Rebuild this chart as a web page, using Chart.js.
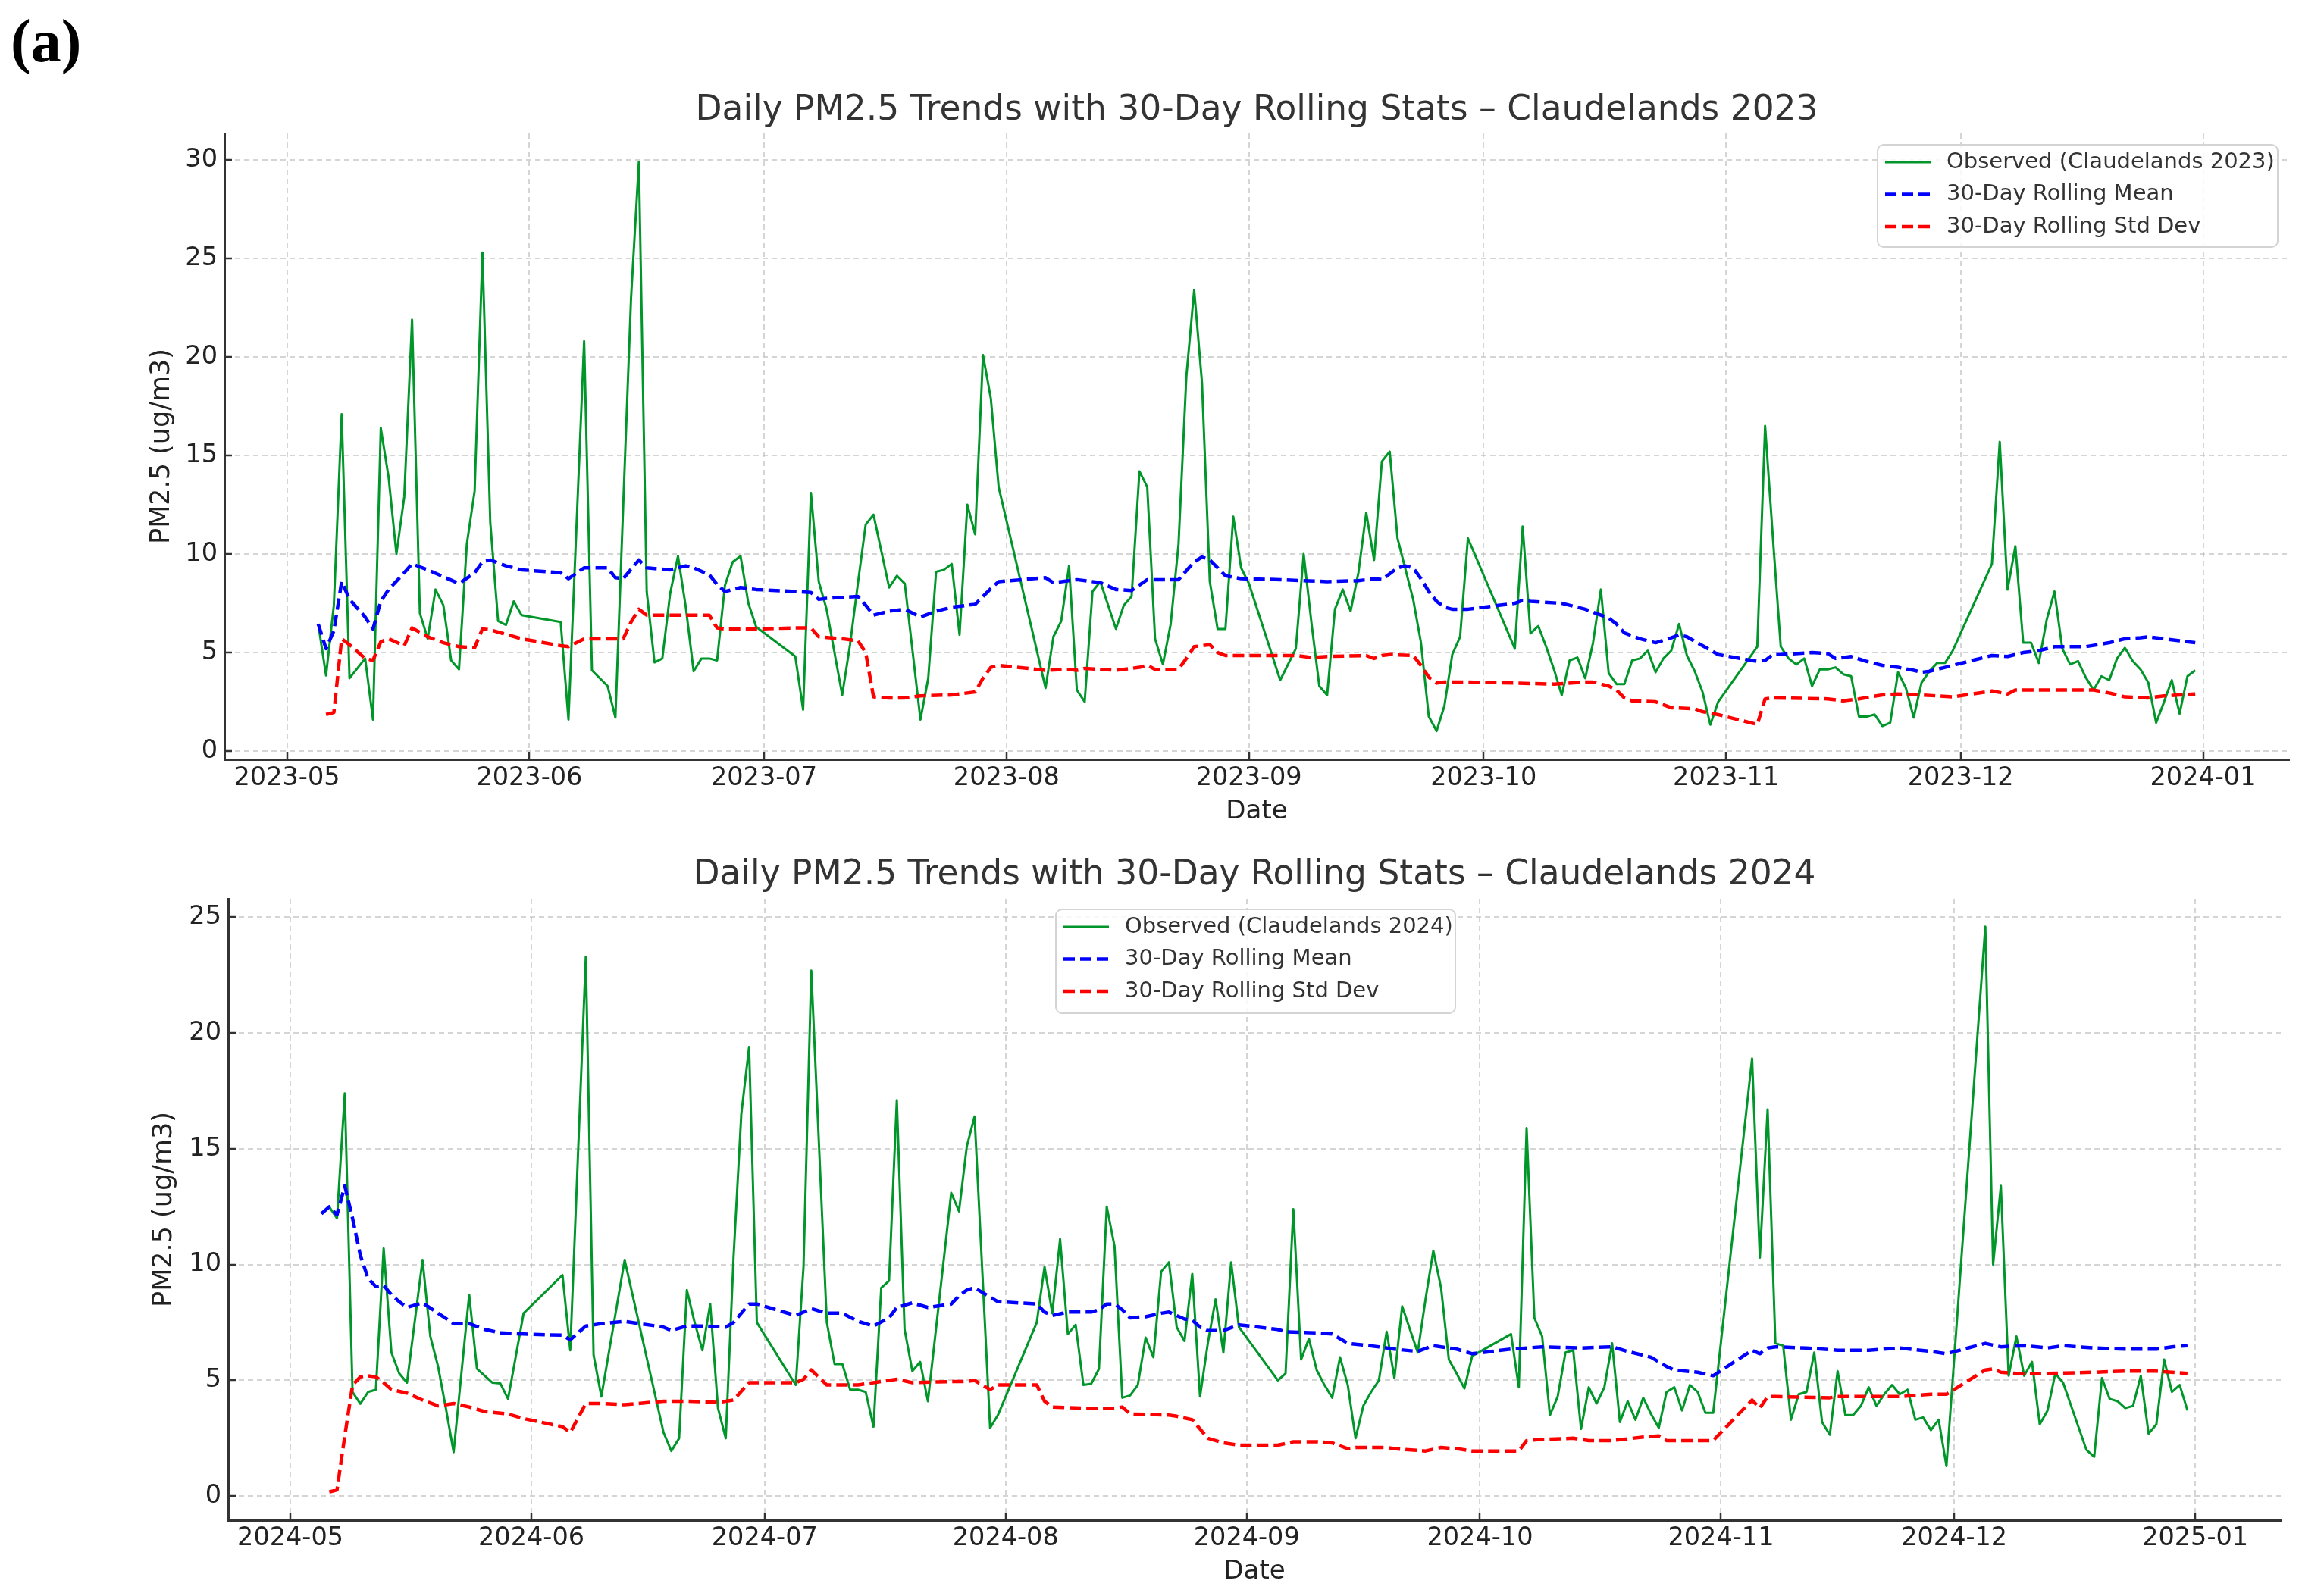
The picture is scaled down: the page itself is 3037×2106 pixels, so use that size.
<!DOCTYPE html>
<html>
<head>
<meta charset="utf-8">
<script src="https://cdn.jsdelivr.net/npm/chart.js@4.4.1/dist/chart.umd.min.js"></script>
<style>
  body { margin: 0; background: #fff; width: 3037px; height: 2106px; position: relative; overflow: hidden; }
  #panel { position: absolute; left: 14px; top: 14px; font: bold 80px "Liberation Serif", serif; line-height: 80px; color: #000; }
  canvas { position: absolute; left: 0; }
</style>
</head>
<body>
<div id="panel">(a)</div>
<canvas id="c2023" width="3037" height="1100" style="top:0px"></canvas>
<canvas id="c2024" width="3037" height="1006" style="top:1100px"></canvas>
<script>
// ---- data ----
const ticks2023 = ["2023-05", "2023-06", "2023-07", "2023-08", "2023-09", "2023-10", "2023-11", "2023-12", "2024-01"];
const ticks2024 = ["2024-05", "2024-06", "2024-07", "2024-08", "2024-09", "2024-10", "2024-11", "2024-12", "2025-01"];
const yTicks2023 = [0, 5, 10, 15, 20, 25, 30];
const yTicks2024 = [0, 5, 10, 15, 20, 25];

// 2023 observed
const obs2023Dates = [
  "05-05", "05-06", "05-07", "05-08", "05-09", "05-11", "05-12", "05-13", "05-14", "05-15", "05-16", "05-17", "05-18",
  "05-19", "05-20", "05-21", "05-22", "05-23", "05-24", "05-25", "05-26", "05-27", "05-28", "05-29", "05-30", "05-31",
  "06-05", "06-06", "06-08", "06-09", "06-11", "06-12", "06-13", "06-14", "06-15", "06-16", "06-17", "06-18", "06-19",
  "06-20", "06-21", "06-22", "06-23", "06-24", "06-25", "06-26", "06-27", "06-28", "06-29", "06-30",
  "07-05", "07-06", "07-07", "07-08", "07-09", "07-11", "07-12", "07-13", "07-14", "07-15", "07-17", "07-18", "07-19",
  "07-21", "07-22", "07-23", "07-24", "07-25", "07-26", "07-27", "07-28", "07-29", "07-30", "07-31",
  "08-06", "08-07", "08-08", "08-09", "08-10", "08-11", "08-12", "08-13", "08-15", "08-16", "08-17", "08-18", "08-19",
  "08-20", "08-21", "08-22", "08-23", "08-24", "08-25", "08-26", "08-27", "08-28", "08-29", "08-30", "08-31",
  "09-01", "09-05", "09-07", "09-08", "09-09", "09-10", "09-11", "09-12", "09-13", "09-14", "09-15", "09-16", "09-17",
  "09-18", "09-19", "09-20", "09-21", "09-22", "09-23", "09-24", "09-25", "09-26", "09-27", "09-28", "09-29",
  "10-05", "10-06", "10-07", "10-08", "10-09", "10-10", "10-11", "10-12", "10-13", "10-14", "10-15", "10-16", "10-17",
  "10-18", "10-19", "10-20", "10-21", "10-22", "10-23", "10-24", "10-25", "10-26", "10-27", "10-28", "10-29", "10-30", "10-31",
  "11-05", "11-06", "11-07", "11-08", "11-09", "11-10", "11-11", "11-12", "11-13", "11-14", "11-15", "11-16", "11-17",
  "11-18", "11-19", "11-20", "11-21", "11-22", "11-23", "11-24", "11-25", "11-26", "11-27", "11-28", "11-29", "11-30",
  "12-05", "12-06", "12-07", "12-08", "12-09", "12-10", "12-11", "12-12", "12-13", "12-14", "12-15", "12-16", "12-17",
  "12-18", "12-19", "12-20", "12-21", "12-22", "12-23", "12-24", "12-25", "12-26", "12-27", "12-28", "12-29", "12-30", "12-31"
];
const obs2023Vals = [
  6.45, 3.84, 7.4, 17.1, 3.7, 4.7, 1.6, 16.4, 13.9, 10.0, 12.9, 21.9, 7.0,
  5.7, 8.2, 7.4, 4.6, 4.15, 10.5, 13.2, 25.3, 11.6, 6.6, 6.4, 7.6, 6.9,
  6.55, 1.6, 20.8, 4.1, 3.3, 1.7, 12.5, 23.0, 29.9, 8.1, 4.5, 4.7, 8.0,
  9.9, 7.3, 4.05, 4.7, 4.7, 4.6, 8.4, 9.6, 9.9, 7.5, 6.3,
  4.8, 2.1, 13.1, 8.6, 7.2, 2.85, 5.4, 8.5, 11.5, 12.0, 8.3, 8.9, 8.5,
  1.6, 3.7, 9.1, 9.2, 9.5, 5.9, 12.5, 11.0, 20.1, 17.9, 13.4,
  3.2, 5.8, 6.6, 9.4, 3.1, 2.5, 8.1, 8.6, 6.2, 7.4, 7.85, 14.2, 13.4,
  5.7, 4.4, 6.45, 10.5, 19.0, 23.4, 18.7, 8.6, 6.2, 6.2, 11.9, 9.3,
  8.5, 3.6, 5.2, 10.0, 6.5, 3.3, 2.84, 7.2, 8.2, 7.1, 9.05, 12.1, 9.7,
  14.7, 15.2, 10.8, 9.25, 7.7, 5.5, 1.75, 1.02, 2.3, 4.9, 5.8, 10.8,
  5.2, 11.4, 5.97, 6.35, 5.3, 4.15, 2.84, 4.6, 4.75, 3.7, 5.5, 8.2, 3.96,
  3.4, 3.4, 4.6, 4.7, 5.1, 4.0, 4.7, 5.1, 6.45, 4.85, 4.05, 3.0, 1.34, 2.5,
  5.3, 16.5, 10.8, 5.3, 4.7, 4.4, 4.7, 3.3, 4.15, 4.15, 4.25, 3.9, 3.8,
  1.75, 1.75, 1.86, 1.27, 1.44, 4.0, 3.2, 1.7, 3.47, 4.05, 4.47, 4.47, 5.1,
  9.5, 15.7, 8.2, 10.4, 5.5, 5.5, 4.47, 6.66, 8.1, 5.2, 4.4, 4.57, 3.74,
  3.1, 3.8, 3.6, 4.7, 5.24, 4.57, 4.15, 3.47, 1.44, 2.48, 3.6, 1.9, 3.8, 4.1
];

// 2023 rolling mean
const mean2023Dates = [
  "05-05", "05-06", "05-07", "05-08", "05-09", "05-11", "05-12", "05-13", "05-14", "05-16", "05-17", "05-19", "05-21",
  "05-23", "05-25", "05-26", "05-27", "05-29", "05-31", "06-05", "06-06", "06-08", "06-11", "06-12", "06-13", "06-15",
  "06-16", "06-19", "06-21", "06-22", "06-24", "06-25", "06-26", "06-28", "06-30", "07-05", "07-07", "07-08", "07-09",
  "07-11", "07-13", "07-14", "07-15", "07-17", "07-19", "07-21", "07-23", "07-25", "07-28", "07-30", "07-31", "08-06",
  "08-07", "08-10", "08-13", "08-15", "08-17", "08-19", "08-23", "08-25", "08-26", "08-27", "08-29", "08-31", "09-05",
  "09-08", "09-11", "09-15", "09-17", "09-18", "09-20", "09-21", "09-22", "09-23", "09-24", "09-25", "09-26", "09-27",
  "09-29", "10-05", "10-06", "10-07", "10-11", "10-14", "10-16", "10-17", "10-18", "10-19", "10-21", "10-23", "10-25",
  "10-26", "10-27", "10-29", "10-31", "11-05", "11-06", "11-07", "11-08", "11-12", "11-14", "11-15", "11-17", "11-19",
  "11-21", "11-23", "11-25", "11-26", "11-27", "11-29", "11-30", "12-05", "12-07", "12-09", "12-11", "12-13", "12-17",
  "12-20", "12-22", "12-24", "12-25", "12-27", "12-29", "12-31"
];
const mean2023Vals = [
  6.45, 5.2, 6.1, 8.6, 7.7, 6.8, 6.2, 7.6, 8.2, 9.05, 9.5, 9.2, 8.85,
  8.5, 9.05, 9.6, 9.7, 9.4, 9.2, 9.05, 8.75, 9.3, 9.3, 8.8, 8.75, 9.7,
  9.3, 9.2, 9.4, 9.3, 8.95, 8.45, 8.1, 8.3, 8.2, 8.1, 8.05, 7.7, 7.75,
  7.8, 7.85, 7.4, 6.9, 7.1, 7.2, 6.8, 7.1, 7.3, 7.45, 8.25, 8.6, 8.8,
  8.55, 8.7, 8.55, 8.2, 8.15, 8.7, 8.7, 9.6, 9.85, 9.7, 8.9, 8.75, 8.7,
  8.65, 8.6, 8.65, 8.75, 8.7, 9.3, 9.4, 9.3, 8.75, 8.1, 7.6, 7.3, 7.2,
  7.2, 7.5, 7.65, 7.6, 7.5, 7.2, 6.9, 6.75, 6.45, 6.0, 5.7, 5.5, 5.75,
  5.9, 5.8, 5.35, 4.9, 4.55, 4.6, 4.9, 4.9, 5.0, 4.95, 4.7, 4.8, 4.55,
  4.35, 4.25, 4.1, 4.0, 4.05, 4.25, 4.35, 4.85, 4.8, 5.0, 5.1, 5.3, 5.3,
  5.5, 5.7, 5.75, 5.8, 5.7, 5.6, 5.5
];

// 2023 rolling std dev
const std2023Dates = [
  "05-06", "05-07", "05-08", "05-09", "05-11", "05-12", "05-13", "05-14", "05-16", "05-17", "05-19", "05-21", "05-23",
  "05-25", "05-26", "05-27", "05-31", "06-05", "06-06", "06-08", "06-11", "06-13", "06-14", "06-15", "06-16", "06-24",
  "06-25", "06-26", "06-30", "07-05", "07-06", "07-07", "07-08", "07-11", "07-13", "07-14", "07-15", "07-17", "07-19",
  "07-21", "07-25", "07-27", "07-28", "07-29", "07-30", "07-31", "08-06", "08-09", "08-10", "08-11", "08-15", "08-18",
  "08-19", "08-20", "08-23", "08-24", "08-25", "08-27", "08-28", "08-29", "09-07", "09-09", "09-11", "09-16", "09-17",
  "09-18", "09-19", "09-22", "09-23", "09-24", "09-25", "09-26", "09-29", "10-05", "10-10", "10-14", "10-15", "10-17",
  "10-18", "10-19", "10-20", "10-23", "10-25", "10-28", "10-29", "10-31", "11-05", "11-06", "11-07", "11-14", "11-16",
  "11-18", "11-21", "11-23", "11-26", "11-30", "12-05", "12-07", "12-08", "12-11", "12-15", "12-18", "12-20", "12-22",
  "12-25", "12-27", "12-31"
];
const std2023Vals = [
  1.86, 1.96, 5.7, 5.4, 4.7, 4.6, 5.55, 5.7, 5.35, 6.25, 5.8, 5.5, 5.3,
  5.25, 6.2, 6.15, 5.7, 5.35, 5.3, 5.7, 5.7, 5.7, 6.55, 7.2, 6.9, 6.9,
  6.25, 6.2, 6.2, 6.25, 6.25, 6.25, 5.8, 5.7, 5.6, 5.0, 2.75, 2.7, 2.7,
  2.8, 2.85, 2.95, 3.0, 3.7, 4.25, 4.35, 4.1, 4.15, 4.1, 4.2, 4.1, 4.25,
  4.35, 4.15, 4.15, 4.7, 5.3, 5.4, 5.0, 4.85, 4.85, 4.75, 4.8, 4.85, 4.7,
  4.85, 4.9, 4.85, 4.35, 3.75, 3.45, 3.5, 3.5, 3.45, 3.4, 3.5, 3.5, 3.3,
  3.1, 2.7, 2.55, 2.5, 2.2, 2.15, 2.0, 1.85, 1.35, 2.65, 2.7, 2.65, 2.55,
  2.65, 2.85, 2.9, 2.85, 2.75, 3.05, 2.9, 3.1, 3.1, 3.1, 3.1, 2.95, 2.75,
  2.7, 2.8, 2.9
];

// 2024 observed
const obs2024Dates = [
  "05-05", "05-06", "05-07", "05-08", "05-09", "05-10", "05-11", "05-12", "05-13", "05-14", "05-15", "05-16",
  "05-18", "05-19", "05-20", "05-21", "05-22", "05-24", "05-25", "05-26", "05-27", "05-28", "05-29", "05-31",
  "06-05", "06-06", "06-08", "06-09", "06-10", "06-13", "06-18", "06-19", "06-20", "06-21", "06-22", "06-23",
  "06-24", "06-25", "06-26", "06-27", "06-28", "06-29", "06-30",
  "07-05", "07-06", "07-07", "07-09", "07-10", "07-11", "07-12", "07-13", "07-14", "07-15", "07-16", "07-17",
  "07-18", "07-19", "07-20", "07-21", "07-22", "07-25", "07-26", "07-27", "07-28", "07-30", "07-31",
  "08-05", "08-06", "08-07", "08-08", "08-09", "08-10", "08-11", "08-12", "08-13", "08-14", "08-15", "08-16",
  "08-17", "08-18", "08-19", "08-20", "08-21", "08-22", "08-23", "08-24", "08-25", "08-26", "08-27", "08-28",
  "08-29", "08-30", "08-31",
  "09-05", "09-06", "09-07", "09-08", "09-09", "09-10", "09-11", "09-12", "09-13", "09-14", "09-15", "09-16",
  "09-17", "09-18", "09-19", "09-20", "09-21", "09-22", "09-23", "09-24", "09-25", "09-26", "09-27", "09-28",
  "09-29", "09-30",
  "10-05", "10-06", "10-07", "10-08", "10-09", "10-10", "10-11", "10-12", "10-13", "10-14", "10-15", "10-16",
  "10-17", "10-18", "10-19", "10-20", "10-21", "10-22", "10-23", "10-24", "10-25", "10-26", "10-27", "10-28",
  "10-29", "10-30", "10-31",
  "11-05", "11-06", "11-07", "11-08", "11-09", "11-10", "11-11", "11-12", "11-13", "11-14", "11-15", "11-16",
  "11-17", "11-18", "11-19", "11-20", "11-21", "11-22", "11-23", "11-24", "11-25", "11-26", "11-27", "11-28",
  "11-29", "11-30",
  "12-05", "12-06", "12-07", "12-08", "12-09", "12-10", "12-11", "12-12", "12-13", "12-14", "12-15", "12-18",
  "12-19", "12-20", "12-21", "12-22", "12-23", "12-24", "12-25", "12-26", "12-27", "12-28", "12-29", "12-30", "12-31"
];
const obs2024Vals = [
  12.2, 12.5, 12.0, 17.4, 4.5, 3.99, 4.5, 4.6, 10.7, 6.2, 5.3, 4.9,
  10.2, 6.9, 5.6, 3.8, 1.9, 8.7, 5.5, 5.2, 4.9, 4.87, 4.2, 7.9,
  9.55, 6.3, 23.3, 6.1, 4.3, 10.2, 2.75, 1.95, 2.5, 8.9, 7.5, 6.3,
  8.3, 3.8, 2.5, 10.3, 16.5, 19.4, 7.5,
  4.8, 9.9, 22.7, 7.5, 5.7, 5.7, 4.6, 4.6, 4.5, 3.0, 9.0, 9.3,
  17.1, 7.2, 5.4, 5.8, 4.1, 13.1, 12.3, 15.1, 16.4, 2.95, 3.5,
  7.5, 9.9, 7.9, 11.1, 7.0, 7.4, 4.8, 4.85, 5.5, 12.5, 10.8, 4.25,
  4.35, 4.8, 6.85, 6.0, 9.7, 10.1, 7.3, 6.7, 9.6, 4.3, 6.6, 8.5,
  6.2, 10.1, 7.3,
  5.0, 5.3, 12.4, 5.9, 6.8, 5.45, 4.8, 4.25, 6.0, 4.8, 2.5, 3.9,
  4.5, 5.0, 7.1, 5.1, 8.2, 7.2, 6.2, 8.5, 10.6, 9.0, 5.9, 5.3,
  4.65, 6.05,
  7.0, 4.7, 15.9, 7.7, 6.9, 3.5, 4.3, 6.2, 6.3, 2.9, 4.7, 4.0,
  4.7, 6.6, 3.2, 4.1, 3.3, 4.25, 3.55, 2.95, 4.5, 4.7, 3.7, 4.8,
  4.5, 3.6, 3.6,
  18.9, 10.3, 16.7, 6.6, 6.5, 3.3, 4.4, 4.5, 6.2, 3.2, 2.65, 5.4,
  3.5, 3.5, 3.9, 4.7, 3.9, 4.4, 4.8, 4.4, 4.6, 3.3, 3.4, 2.85,
  3.3, 1.3,
  24.6, 10.0, 13.4, 5.2, 6.9, 5.2, 5.8, 3.1, 3.7, 5.3, 4.9, 2.0,
  1.7, 5.1, 4.2, 4.1, 3.8, 3.9, 5.2, 2.7, 3.1, 5.9, 4.5, 4.8, 3.7
];

// 2024 rolling mean
const mean2024Dates = [
  "05-05", "05-06", "05-07", "05-08", "05-09", "05-10", "05-11", "05-12", "05-13", "05-14", "05-15", "05-16", "05-18",
  "05-20", "05-22", "05-24", "05-26", "05-28", "05-31", "06-05", "06-06", "06-08", "06-10", "06-13", "06-18", "06-19",
  "06-21", "06-23", "06-26", "06-27", "06-29", "06-30", "07-05", "07-07", "07-09", "07-11", "07-13", "07-15", "07-17",
  "07-18", "07-20", "07-22", "07-25", "07-26", "07-27", "07-28", "07-30", "07-31", "08-05", "08-06", "08-07", "08-09",
  "08-12", "08-13", "08-14", "08-15", "08-16", "08-17", "08-19", "08-21", "08-22", "08-24", "08-25", "08-26", "08-27",
  "08-29", "08-31", "09-05", "09-06", "09-10", "09-12", "09-13", "09-14", "09-18", "09-20", "09-23", "09-25", "09-26",
  "09-28", "09-30", "10-05", "10-09", "10-14", "10-18", "10-20", "10-23", "10-25", "10-26", "10-29", "10-31", "11-05",
  "11-06", "11-07", "11-08", "11-12", "11-16", "11-20", "11-24", "11-28", "11-30", "12-05", "12-07", "12-10", "12-13",
  "12-15", "12-19", "12-23", "12-27", "12-29", "12-31"
];
const mean2024Vals = [
  12.2, 12.5, 12.15, 13.4, 12.0, 10.4, 9.4, 9.05, 9.1, 8.7, 8.4, 8.15, 8.35,
  7.9, 7.45, 7.45, 7.2, 7.05, 7.0, 6.95, 6.75, 7.35, 7.45, 7.55, 7.3, 7.15,
  7.35, 7.35, 7.3, 7.5, 8.3, 8.3, 7.8, 8.1, 7.9, 7.9, 7.55, 7.35, 7.7,
  8.15, 8.35, 8.15, 8.3, 8.65, 8.9, 9.0, 8.6, 8.4, 8.3, 7.95, 7.8, 7.95,
  7.95, 8.05, 8.3, 8.3, 8.05, 7.7, 7.75, 7.9, 7.95, 7.65, 7.6, 7.3, 7.15,
  7.15, 7.4, 7.2, 7.1, 7.05, 7.0, 6.8, 6.6, 6.45, 6.35, 6.25, 6.5, 6.45,
  6.35, 6.15, 6.35, 6.45, 6.4, 6.45, 6.25, 6.0, 5.6, 5.45, 5.35, 5.2, 6.3,
  6.15, 6.4, 6.45, 6.4, 6.3, 6.3, 6.4, 6.25, 6.15, 6.6, 6.45, 6.5, 6.4,
  6.5, 6.4, 6.35, 6.35, 6.45, 6.5
];

// 2024 rolling std dev
const std2024Dates = [
  "05-06", "05-07", "05-08", "05-09", "05-10", "05-11", "05-12", "05-13", "05-14", "05-16", "05-18", "05-20", "05-22",
  "05-24", "05-26", "05-29", "05-31", "06-05", "06-06", "06-08", "06-10", "06-13", "06-18", "06-21", "06-25", "06-27",
  "06-29", "06-30", "07-05", "07-06", "07-07", "07-09", "07-13", "07-15", "07-18", "07-20", "07-25", "07-27", "07-28",
  "07-30", "07-31", "08-05", "08-06", "08-07", "08-11", "08-15", "08-16", "08-17", "08-22", "08-23", "08-25", "08-26",
  "08-27", "08-29", "08-31", "09-05", "09-07", "09-10", "09-12", "09-14", "09-15", "09-19", "09-20", "09-24", "09-26",
  "09-28", "09-30", "10-05", "10-06", "10-07", "10-09", "10-13", "10-15", "10-18", "10-22", "10-24", "10-25", "10-31",
  "11-05", "11-06", "11-07", "11-08", "11-15", "11-16", "11-20", "11-24", "11-28", "11-30", "12-05", "12-06", "12-07",
  "12-09", "12-13", "12-19", "12-23", "12-27", "12-31"
];
const std2024Vals = [
  0.18, 0.27, 2.6, 4.8, 5.15, 5.2, 5.15, 4.9, 4.6, 4.45, 4.15, 3.9, 4.0,
  3.85, 3.65, 3.55, 3.35, 3.0, 2.75, 4.0, 4.0, 3.95, 4.1, 4.1, 4.05, 4.15,
  4.9, 4.9, 4.9, 5.05, 5.45, 4.8, 4.8, 4.9, 5.05, 4.9, 4.95, 4.95, 5.0,
  4.6, 4.8, 4.8, 4.1, 3.85, 3.8, 3.8, 3.85, 3.55, 3.5, 3.45, 3.3, 2.9,
  2.5, 2.3, 2.2, 2.2, 2.35, 2.35, 2.3, 2.05, 2.1, 2.1, 2.05, 1.95, 2.1,
  2.05, 1.95, 1.95, 1.95, 2.4, 2.45, 2.5, 2.4, 2.4, 2.55, 2.6, 2.4, 2.4,
  4.15, 3.8, 4.3, 4.3, 4.25, 4.3, 4.3, 4.3, 4.4, 4.4, 5.45, 5.5, 5.35,
  5.3, 5.3, 5.35, 5.4, 5.4, 5.3
];

// ---- helpers ----
Chart.defaults.font.family = "'DejaVu Sans', sans-serif";

function dayNum(baseYear, y, m, d) {
  return (Date.UTC(y, m - 1, d) - Date.UTC(baseYear, 4, 1)) / 86400000;
}
function series(year, dates, vals) {
  return dates.map((md, i) => {
    const [m, d] = md.split("-").map(Number);
    return { x: dayNum(year, year, m, d), y: vals[i] };
  });
}
function tickDays(year, labels) {
  return labels.map((s) => {
    const [y, m] = s.split("-").map(Number);
    return dayNum(year, y, m, 1);
  });
}

// title centred over the plot area (matplotlib style)
const plotTitle = {
  id: "plotTitle",
  afterDraw(chart, args, opts) {
    const { ctx, chartArea } = chart;
    ctx.save();
    ctx.font = "45.5px 'DejaVu Sans'";
    ctx.fillStyle = "#333";
    ctx.textAlign = "center";
    ctx.textBaseline = "alphabetic";
    ctx.fillText(opts.text, (chartArea.left + chartArea.right) / 2, opts.baseline);
    ctx.restore();
  },
};

// boxed legend inside the axes
const boxLegend = {
  id: "boxLegend",
  afterDraw(chart, args, opts) {
    const ctx = chart.ctx;
    ctx.save();
    ctx.beginPath();
    ctx.roundRect(opts.x, opts.y, opts.w, opts.h, 8);
    ctx.fillStyle = "rgba(255,255,255,0.85)";
    ctx.fill();
    ctx.strokeStyle = "#d4d4d4";
    ctx.lineWidth = 2;
    ctx.stroke();
    ctx.font = "29px 'DejaVu Sans'";
    ctx.textBaseline = "middle";
    chart.data.datasets.forEach((ds, i) => {
      const y = opts.y + 23 + i * 42.5;
      ctx.beginPath();
      ctx.setLineDash(ds.borderDash || []);
      ctx.strokeStyle = ds.borderColor;
      ctx.lineWidth = ds.borderWidth;
      ctx.moveTo(opts.x + 10, y);
      ctx.lineTo(opts.x + 70, y);
      ctx.stroke();
      ctx.setLineDash([]);
      ctx.fillStyle = "#333";
      ctx.fillText(ds.label, opts.x + 91, y);
    });
    ctx.restore();
  },
};

function build(id, s) {
  const xPos = tickDays(s.year, s.xLabels);
  const tickFont = { size: 33.5 };
  new Chart(document.getElementById(id), {
    type: "line",
    data: {
      datasets: [
        {
          label: `Observed (Claudelands ${s.year})`,
          data: series(s.year, s.obsDates, s.obsVals),
          borderColor: "#00962a",
          borderWidth: 3,
          order: 3,
        },
        {
          label: "30-Day Rolling Mean",
          data: series(s.year, s.meanDates, s.meanVals),
          borderColor: "#0000ff",
          borderWidth: 4.5,
          borderDash: [15, 7],
          order: 2,
        },
        {
          label: "30-Day Rolling Std Dev",
          data: series(s.year, s.stdDates, s.stdVals),
          borderColor: "#ff0000",
          borderWidth: 4.5,
          borderDash: [15, 7],
          order: 1,
        },
      ],
    },
    options: {
      responsive: false,
      animation: false,
      devicePixelRatio: 1,
      layout: { padding: s.pad },
      elements: {
        point: { radius: 0 },
        line: { tension: 0, borderJoinStyle: "round", fill: false },
      },
      plugins: {
        legend: { display: false },
        tooltip: { enabled: false },
        plotTitle: { text: s.title, baseline: s.titleBaseline },
        boxLegend: s.legend,
      },
      scales: {
        x: {
          type: "linear",
          min: -8,
          max: 256,
          afterBuildTicks: (sc) => { sc.ticks = xPos.map((v) => ({ value: v })); },
          afterFit: (sc) => { sc.height = s.xHeight; },
          grid: { color: "rgba(185,185,185,0.6)", lineWidth: 2, tickLength: -10, tickColor: "#333", tickWidth: 2.5 },
          border: { color: "#333", width: 3, dash: [7, 5] },
          ticks: {
            autoSkip: false, maxRotation: 0, padding: s.xTickPad, color: "#222", font: tickFont,
            callback: (v, i) => s.xLabels[i],
          },
          title: { display: true, text: "Date", color: "#222", font: { size: 34 }, padding: { top: 0, bottom: s.xTitlePad } },
        },
        y: {
          min: s.yMin,
          max: s.yMax,
          afterBuildTicks: (sc) => { sc.ticks = s.yTicks.map((v) => ({ value: v })); },
          afterFit: (sc) => { sc.width = s.yWidth; },
          grid: { color: "rgba(185,185,185,0.6)", lineWidth: 2, tickLength: -10, tickColor: "#333", tickWidth: 2.5 },
          border: { color: "#333", width: 3, dash: [7, 5] },
          ticks: { padding: 19, color: "#222", font: tickFont, callback: (v) => String(v) },
          title: { display: true, text: "PM2.5 (ug/m3)", color: "#222", font: { size: 35 }, padding: { top: s.yTitlePad, bottom: 0 } },
        },
      },
    },
    plugins: [plotTitle, boxLegend],
  });
}

build("c2023", {
  year: 2023,
  title: "Daily PM2.5 Trends with 30-Day Rolling Stats \u2013 Claudelands 2023",
  xLabels: ticks2023, yTicks: yTicks2023,
  obsDates: obs2023Dates, obsVals: obs2023Vals,
  meanDates: mean2023Dates, meanVals: mean2023Vals,
  stdDates: std2023Dates, stdVals: std2023Vals,
  yMin: -0.42, yMax: 31.35,
  pad: { top: 176, right: 17, left: 0, bottom: 0 },
  yWidth: 296, xHeight: 98, titleBaseline: 158,
  xTickPad: 15, xTitlePad: 8.6, yTitlePad: 193,
  legend: { x: 2477, y: 191, w: 528, h: 135 },
});

build("c2024", {
  year: 2024,
  title: "Daily PM2.5 Trends with 30-Day Rolling Stats \u2013 Claudelands 2024",
  xLabels: ticks2024, yTicks: yTicks2024,
  obsDates: obs2024Dates, obsVals: obs2024Vals,
  meanDates: mean2024Dates, meanVals: mean2024Vals,
  stdDates: std2024Dates, stdVals: std2024Vals,
  yMin: -1.04, yMax: 25.8,
  pad: { top: 86, right: 28, left: 0, bottom: 0 },
  yWidth: 301, xHeight: 100, titleBaseline: 67,
  xTickPad: 14, xTitlePad: 11.6, yTitlePad: 196,
  legend: { x: 1393, y: 100, w: 527, h: 137 },
});
</script>
</body>
</html>
